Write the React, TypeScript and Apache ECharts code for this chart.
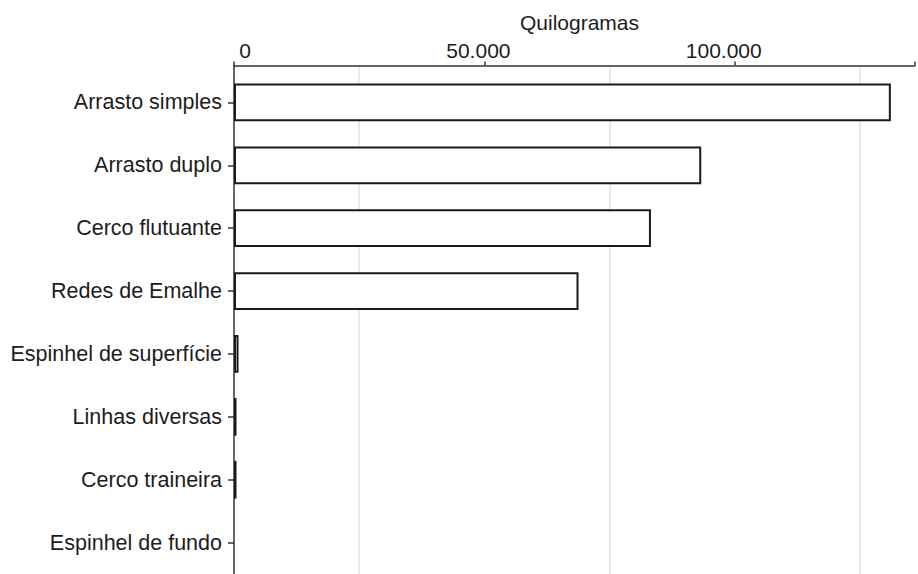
import React, { useEffect, useRef } from 'react';
import * as echarts from 'echarts';

const categories = [
  'Arrasto simples',
  'Arrasto duplo',
  'Cerco flutuante',
  'Redes de Emalhe',
  'Espinhel de superfície',
  'Linhas diversas',
  'Cerco traineira',
  'Espinhel de fundo',
];
const kilograms = [130600, 92900, 82900, 68500, 900, 500, 500, 0];
const labelTicks = [0, 50000, 100000];
const axisName = 'Quilogramas';
const axisMax = 136000;

const FONT = "'Liberation Sans', Arial, sans-serif";
const TEXT = '#1c1c1c';
const AXIS = '#333';

const fmt = (v: number) => String(v).replace(/\B(?=(\d{3})+(?!\d))/g, '.');

export default function App() {
  const ref = useRef<HTMLDivElement>(null);
  useEffect(() => {
    if (!ref.current) return;
    const chart = echarts.init(ref.current, undefined, { renderer: 'svg' });
    const richBase = { fontSize: 21, fontFamily: FONT, color: TEXT };
    chart.setOption({
      animation: false,
      backgroundColor: '#fff',
      grid: [
        { left: 234, right: 0, top: 71, bottom: 0, containLabel: false },
        { left: 234, right: 0, top: 65.5, bottom: 0, containLabel: false },
      ],
      xAxis: [
        { type: 'value', gridIndex: 0, min: 0, max: axisMax, show: false },
        {
          type: 'value',
          gridIndex: 1,
          position: 'top',
          min: 0,
          max: axisMax,
          interval: 50000,
          name: axisName,
          nameLocation: 'middle',
          nameGap: 33,
          nameTextStyle: { fontSize: 21, fontFamily: FONT, color: TEXT, padding: [0, 0, 0, 10] },
          axisLine: { show: true, onZero: false, lineStyle: { color: AXIS, width: 1.5 } },
          axisTick: { show: true, inside: false, length: 4, lineStyle: { color: AXIS, width: 1.5 } },
          splitLine: { show: false },
          axisLabel: {
            margin: 5,
            fontSize: 21,
            fontFamily: FONT,
            color: TEXT,
            formatter: (v: number) => {
              const i = labelTicks.indexOf(v);
              if (i < 0) return '';
              return `{t${i}|${fmt(v)}}`;
            },
            rich: {
              t0: { ...richBase, padding: [0, 0, 0, 22] },
              t1: { ...richBase, padding: [0, 12, 0, 0] },
              t2: { ...richBase, padding: [0, 22, 0, 0] },
            },
          },
        },
        {
          type: 'value',
          gridIndex: 1,
          position: 'top',
          min: 0,
          max: axisMax,
          interval: 25000,
          axisLine: { show: false },
          axisTick: { show: false },
          axisLabel: { show: false },
          splitLine: {
            show: true,
            showMinLine: true,
            showMaxLine: true,
            lineStyle: { color: ['rgba(0,0,0,0)', '#e2e2e2'], width: 1.5 },
          },
        },
      ],
      yAxis: [
        {
          type: 'category',
          gridIndex: 0,
          inverse: true,
          data: categories,
          axisLine: { show: false },
          axisTick: { show: true, alignWithLabel: true, length: 6, lineStyle: { color: AXIS, width: 1.5 } },
          axisLabel: { margin: 12, fontSize: 21.5, fontFamily: FONT, color: TEXT },
          splitLine: { show: false },
        },
        {
          type: 'value',
          gridIndex: 1,
          min: 0,
          max: 1,
          axisLine: { show: true, onZero: false, lineStyle: { color: AXIS, width: 1.5 } },
          axisTick: { show: false },
          axisLabel: { show: false },
          splitLine: { show: false },
        },
      ],
      series: [
        {
          type: 'bar',
          xAxisIndex: 0,
          yAxisIndex: 0,
          barCategoryGap: '40%',
          clip: false,
          data: kilograms.map((v) => ({
            value: v,
            itemStyle: v === 0 ? { borderWidth: 0 } : undefined,
          })),
          itemStyle: { color: '#fff', borderColor: '#1a1a1a', borderWidth: 2 },
          z: 3,
        },
      ],
    });
    return () => chart.dispose();
  }, []);
  return (
    <div
      ref={ref}
      style={{ position: 'absolute', left: 0, top: 0, width: 918, height: 574, background: '#fff' }}
    />
  );
}
